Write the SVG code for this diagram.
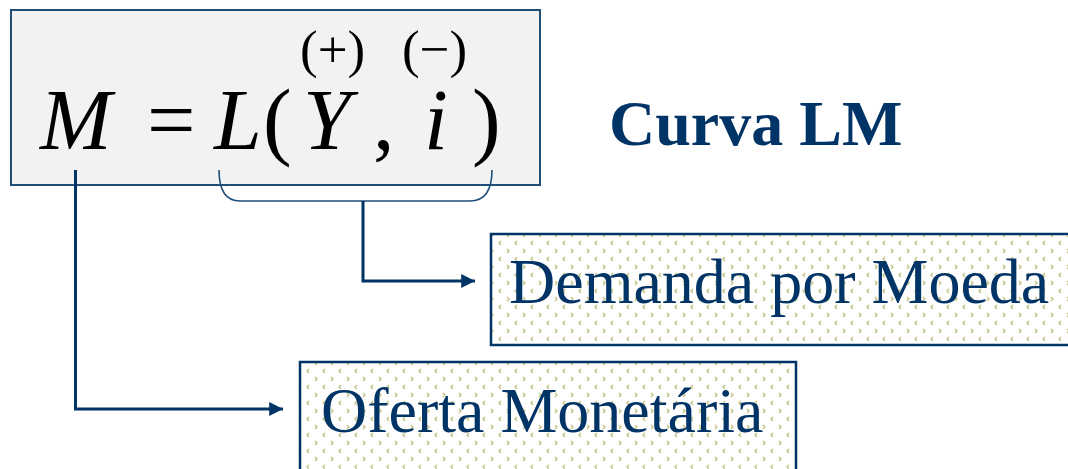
<svg xmlns="http://www.w3.org/2000/svg" width="1068" height="469" viewBox="0 0 1068 469">
  <style>
    .eq { font-family: "Liberation Serif", "Times New Roman", serif; font-size: 86px; fill: #000; }
    .it { font-style: italic; }
    .sign { font-family: "Liberation Serif", "Times New Roman", serif; font-size: 53px; fill: #000; }
    .lbl { font-family: "Liberation Serif", "Times New Roman", serif; font-size: 64px; fill: #003366; }
    .title { font-family: "Liberation Serif", "Times New Roman", serif; font-size: 64px; font-weight: bold; fill: #003366; }
    .pbox { fill: url(#chev); stroke: #003366; stroke-width: 2.5; }
    .conn { fill: none; stroke: #003366; stroke-width: 3; }
    .brace { fill: none; stroke: #1f4e79; stroke-width: 1.6; }
  </style>
  <defs>
    <pattern id="chev" width="16" height="16" patternUnits="userSpaceOnUse">
      <rect width="16" height="16" fill="#ffffff"/>
      <path d="M5,1 L3,3 L5,5" fill="none" stroke="#c4c488" stroke-width="1.4"/>
      <path d="M11,9 L13,11 L11,13" fill="none" stroke="#c4c488" stroke-width="1.4"/>
    </pattern>
    <marker id="arrow" viewBox="0 0 10 10" refX="10" refY="5" markerWidth="5.5" markerHeight="4.6" markerUnits="strokeWidth" orient="auto">
      <path d="M0,0 L10,5 L0,10 Z" fill="#003366"/>
    </marker>
  </defs>

  <g id="equation-box">
    <rect x="11" y="10" width="529" height="175" fill="#f2f2f2" stroke="#1f4e79" stroke-width="2"/>
    <text class="sign" y="67"><tspan x="300">(+)</tspan><tspan x="402">(−)</tspan></text>
    <text class="eq" y="149"><tspan class="it" x="40">M</tspan><tspan x="147">=</tspan><tspan class="it" x="214">L</tspan><tspan x="263">(</tspan><tspan class="it" x="303">Y</tspan><tspan x="373">,</tspan><tspan class="it" x="424">i</tspan><tspan x="472">)</tspan></text>
  </g>

  <g id="title">
    <text class="title" x="609" y="145">Curva LM</text>
  </g>

  <g id="demanda">
    <rect class="pbox" x="491" y="234" width="590" height="111"/>
    <text class="lbl" x="509" y="303">Demanda por Moeda</text>
  </g>

  <g id="oferta">
    <rect class="pbox" x="300" y="362" width="496" height="120"/>
    <text class="lbl" x="321" y="432">Oferta Monetária</text>
  </g>

  <g id="connectors">
    <path class="brace" d="M219,170 Q219,201 240,201 L470,201 Q492,201 492,170"/>
    <path class="conn" d="M363,201 L363,281 L475,281" marker-end="url(#arrow)"/>
    <path class="conn" d="M75.5,170 L75.5,409 L283,409" marker-end="url(#arrow)"/>
  </g>
</svg>
